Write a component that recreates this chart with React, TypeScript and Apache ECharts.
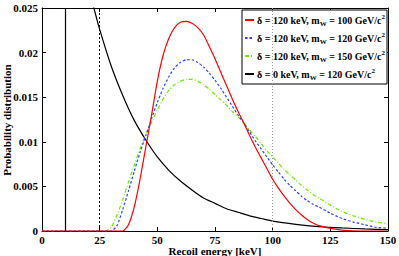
import React, { useEffect, useRef } from "react";
import * as echarts from "echarts";

// Recoil energy grid (keV) for the three δ = 120 keV curves
const energies = [0, 27.5, 30, 32.5, 35, 37.5, 40, 42.5, 45, 47.5, 50, 52.5, 55, 57.5, 60, 62.5, 65, 67.5, 70, 72.5, 75, 77.5, 80, 82.5, 85, 87.5, 90, 92.5, 95, 97.5, 100, 102.5, 105, 107.5, 110, 112.5, 115, 117.5, 120, 125, 130, 135, 140, 145, 150];

const red100 = [0, 0, 0, 0, 0, 0.0007, 0.0027, 0.0058, 0.0094, 0.0130, 0.0168, 0.0197, 0.0216, 0.0228, 0.0234, 0.0235, 0.0233, 0.0228, 0.0220, 0.0207, 0.0193, 0.0178, 0.0163, 0.0148, 0.0134, 0.0121, 0.0107, 0.0094, 0.0082, 0.0070, 0.0058, 0.0048, 0.0039, 0.0031, 0.0024, 0.0018, 0.0013, 0.0009, 0.0006, 0.0003, 0.0001, 0.00003, 0, 0, 0];

const blue120 = [0, 0, 0, 0.0006, 0.0024, 0.0045, 0.0067, 0.0088, 0.0107, 0.0126, 0.0144, 0.0160, 0.0173, 0.0183, 0.0189, 0.0192, 0.0192, 0.0189, 0.0184, 0.0177, 0.0169, 0.0160, 0.0150, 0.0140, 0.0130, 0.0121, 0.0111, 0.0101, 0.0092, 0.0083, 0.0074, 0.0066, 0.0058, 0.0051, 0.0045, 0.0039, 0.0034, 0.0030, 0.0027, 0.0020, 0.0014, 0.0010, 0.0007, 0.0004, 0.0003];

const green150 = [0, 0, 0.0004, 0.0018, 0.0035, 0.0055, 0.0074, 0.0092, 0.0108, 0.0122, 0.0136, 0.0148, 0.0158, 0.0164, 0.0168, 0.0170, 0.0170, 0.0168, 0.0164, 0.0159, 0.0153, 0.0147, 0.0141, 0.0134, 0.0128, 0.0121, 0.0113, 0.0106, 0.0098, 0.0090, 0.0083, 0.0076, 0.0069, 0.0063, 0.0057, 0.0051, 0.0046, 0.0041, 0.0037, 0.0029, 0.0022, 0.0017, 0.0013, 0.0010, 0.0008];

// δ = 0 keV curve
const blackEnergies = [10, 12.5, 15, 17.5, 20, 22.5, 25, 30, 35, 40, 45, 50, 55, 60, 65, 70, 75, 80, 85, 90, 95, 100, 110, 120, 130, 140, 150];
const black0 = [0.0412, 0.0372, 0.0337, 0.0305, 0.0276, 0.0250, 0.0226, 0.0185, 0.0152, 0.0124, 0.0102, 0.0083, 0.0068, 0.0056, 0.0046, 0.0037, 0.0031, 0.0025, 0.0021, 0.0017, 0.0014, 0.0011, 0.00075, 0.00050, 0.00034, 0.00023, 0.00015];

// vertical reference lines (keV)
const thresholdLine = 10;
const dottedLine = 25;
const greyLine = 100;

const xTicks = [0, 25, 50, 75, 100, 125, 150];
const yTicks = [0, 0.005, 0.01, 0.015, 0.02, 0.025];

const xTitle = "Recoil energy [keV]";
const yTitle = "Probability distribution";

const legendParts: Record<string, [string, string]> = {
  r: ["120", "100"],
  b: ["120", "120"],
  g: ["120", "150"],
  k: ["0", "120"],
};

const FONT = "Liberation Serif";

const zip = (xs: number[], ys: number[]) => xs.map((x, i) => [x, ys[i]]);

export default function App() {
  const ref = useRef<HTMLDivElement>(null);
  useEffect(() => {
    if (!ref.current) return;
    const chart = echarts.init(ref.current, null, { renderer: "svg" });
    const axisCommon = {
      type: "value" as const,
      axisLine: { show: true, onZero: false, lineStyle: { color: "#000", width: 1 } },
      axisTick: { show: true, inside: true, length: 4, lineStyle: { color: "#000" } },
      splitLine: { show: false },
    };
    const labelStyle = { fontFamily: FONT, fontWeight: "bold" as const, fontSize: 11, color: "#000", lineHeight: 11 };
    const titleStyle = {
      fontFamily: FONT,
      fontWeight: "bold" as const,
      fontSize: 11,
      lineHeight: 11,
      fill: "#000",
      align: "center" as const,
      verticalAlign: "middle" as const,
    };
    const lineSeries = (name: string, xs: number[], ys: number[], color: string, type: any, z: number) => ({
      name,
      type: "line",
      data: zip(xs, ys),
      showSymbol: false,
      symbol: "none",
      smooth: 0.2,
      clip: true,
      lineStyle: { color, width: 1.2, type },
      itemStyle: { color },
      z,
    });
    const blackSeries: any = lineSeries("k", blackEnergies, black0, "#000", "solid", 2);
    blackSeries.markLine = {
      silent: true,
      symbol: "none",
      label: { show: false },
      data: [
        { xAxis: thresholdLine, lineStyle: { color: "#000", type: "solid", width: 1.2 } },
        { xAxis: dottedLine, lineStyle: { color: "#000", type: [2, 2], width: 1 } },
        { xAxis: greyLine, lineStyle: { color: "#999", type: [1, 2], width: 1 } },
      ],
    };
    chart.setOption({
      animation: false,
      backgroundColor: "#fff",
      grid: { left: 42, right: 11, top: 8, bottom: 25, outerBoundsMode: "none", containLabel: false },
      graphic: [
        { type: "text", x: 7, y: 120, rotation: Math.PI / 2, style: { text: yTitle, ...titleStyle } },
        { type: "text", x: 215, y: 251, style: { text: xTitle, ...titleStyle } },
      ],
      xAxis: [
        {
          ...axisCommon,
          position: "bottom",
          min: 0,
          max: 150,
          interval: 25,
          axisLabel: { ...labelStyle, margin: 3, formatter: (v: number) => (xTicks.includes(v) ? String(v) : "") },
        },
        {
          ...axisCommon,
          position: "top",
          min: 0,
          max: 150,
          interval: 25,
          axisLabel: { show: false },
        },
      ],
      yAxis: [
        {
          ...axisCommon,
          position: "left",
          min: 0,
          max: 0.025,
          interval: 0.005,
          axisLabel: {
            ...labelStyle,
            margin: 4,
            formatter: (v: number) => {
              const t = yTicks.find((y) => Math.abs(y - v) < 1e-9);
              return t === undefined ? "" : String(t);
            },
          },
        },
        {
          ...axisCommon,
          position: "right",
          min: 0,
          max: 0.025,
          interval: 0.005,
          axisLabel: { show: false },
        },
      ],
      legend: {
        orient: "vertical",
        left: 242,
        top: 10,
        width: 144,
        backgroundColor: "#fff",
        borderColor: "#000",
        borderWidth: 1,
        borderRadius: 0,
        padding: [3, 2, 3, 2],
        itemGap: 4,
        itemWidth: 9,
        itemHeight: 6,
        itemStyle: { opacity: 0 },
        data: ["r", "b", "g", "k"],
        formatter: (name: string) => {
          const [d, m] = legendParts[name];
          return `{a|δ = ${d} keV, m}{sub|W}{a| = ${m} GeV/c}{sup|2}`;
        },
        textStyle: {
          fontFamily: FONT,
          fontWeight: "bold",
          fontSize: 10,
          color: "#000",
          padding: [0, 0, 0, -2],
          rich: {
            a: { fontFamily: FONT, fontWeight: "bold", fontSize: 10, color: "#000" },
            sub: { fontFamily: FONT, fontWeight: "bold", fontSize: 7, color: "#000", padding: [7, 0, 0, 0] },
            sup: { fontFamily: FONT, fontWeight: "bold", fontSize: 7, color: "#000", padding: [0, 0, 7, 0] },
          },
        },
      },
      series: [
        lineSeries("r", energies, red100, "#ff0000", "solid", 5),
        lineSeries("b", energies, blue120, "#2244ff", [2.5, 2], 4),
        lineSeries("g", energies, green150, "#66ee00", [4, 2, 1, 2], 3),
        blackSeries,
      ],
    });
    return () => chart.dispose();
  }, []);
  return <div ref={ref} style={{ width: 399, height: 256, position: "absolute", left: 0, top: 0 }} />;
}
